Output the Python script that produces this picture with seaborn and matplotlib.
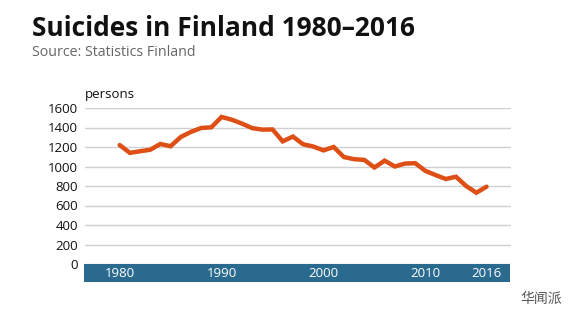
import matplotlib
matplotlib.use("Agg")
import matplotlib.pyplot as plt
import seaborn as sns
import pandas as pd

years = list(range(1980, 2017))
suicides = [1220, 1140, 1156, 1172, 1231, 1208, 1303, 1355, 1395, 1402,
            1508, 1480, 1440, 1394, 1378, 1380, 1258, 1307, 1228, 1205,
            1165, 1200, 1097, 1075, 1068, 990, 1060, 1000, 1030, 1034,
            955, 912, 872, 895, 800, 731, 793]
yticks = [0, 200, 400, 600, 800, 1000, 1200, 1400, 1600]
xticks = [1980, 1990, 2000, 2010, 2016]

df = pd.DataFrame({"year": years, "persons": suicides})

sns.set_theme(style="white")
plt.rcParams['font.family'] = ['Open Sans', 'Noto Sans CJK SC', 'DejaVu Sans']

LINE = "#DD4F15"
BAND = "#2B6A8F"
GRID = "#D0D0D0"

fig = plt.figure(figsize=(5.8, 3.26), dpi=100)
ax = fig.add_axes([85/580, 1-264/326, 426/580, 156/326])
xmin, xmax = 1976.6, 2018.4

for v in yticks:
    ax.axhline(v, color=GRID, lw=1.0, zorder=0)
sns.lineplot(data=df, x="year", y="persons", ax=ax, color=LINE, lw=3.2,
             solid_joinstyle="miter", zorder=3)
ax.set_xlim(xmin, xmax)
ax.set_ylim(0, 1600)
ax.set_yticks(yticks)
ax.set_yticklabels([str(v) for v in yticks], fontsize=9.5, color="#111111")
ax.tick_params(axis="y", length=0, pad=5)
ax.set_xticks([])
ax.set_xlabel("")
ax.set_ylabel("")
for s in ax.spines.values():
    s.set_visible(False)
ax.text(0.0, 1.045, "persons", transform=ax.transAxes, fontsize=9.5,
        color="#111111", ha="left", va="bottom")

band = fig.add_axes([84/580, 1-282/326, 426/580, 18/326])
band.set_facecolor(BAND)
band.set_xlim(xmin - 0.1, xmax - 0.1)
band.set_ylim(0, 1)
band.set_yticks([])
band.set_xticks([])
for s in band.spines.values():
    s.set_visible(False)
for x in xticks:
    band.text(x, 0.45, str(x), ha="center", va="center", color="white",
              fontsize=9.5)

fig.text(32/580, 1-28/326, "Suicides in Finland 1980–2016", fontsize=19,
         fontweight="bold", color="#111111", ha="left", va="center")
fig.text(32/580, 1-52/326, "Source: Statistics Finland", fontsize=10.3,
         color="#666666", ha="left", va="center")
fig.text(541/580, 1-299/326, "华闻派", fontsize=10, color="#555555",
         ha="center", va="center", family=['Noto Sans CJK SC', 'DejaVu Sans'])

fig.savefig("out.png", dpi=100)
